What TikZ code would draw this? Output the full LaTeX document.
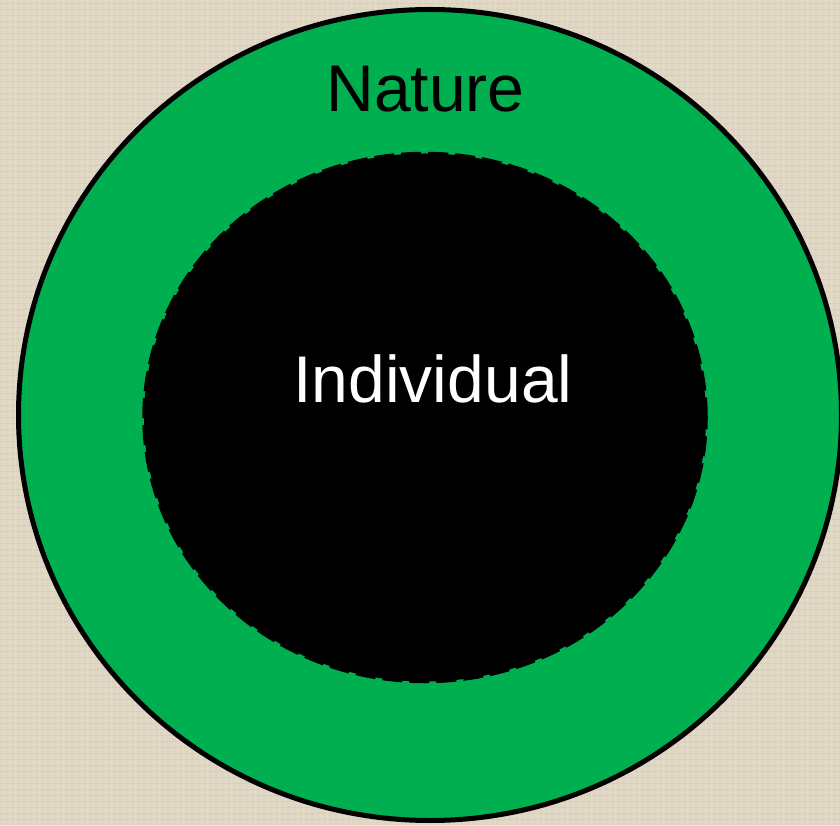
\documentclass[tikz,border=0pt]{standalone}
\usepackage{fontspec}
\setmainfont{Liberation Sans}
\definecolor{linen}{RGB}{223,214,196}
\definecolor{linendark}{RGB}{200,190,170}
\definecolor{linenlight}{RGB}{236,229,214}
\definecolor{natgreen}{RGB}{0,176,80}
\tikzset{
  outerring/.style={fill=natgreen, draw=black, line width=5pt},
  innercore/.style={fill=black, draw=black, line width=3.5pt, dash pattern=on 20pt off 7pt},
  bigtext/.style={font=\fontsize{66}{72}\selectfont, anchor=base, inner sep=0pt}
}
\begin{document}
\begin{tikzpicture}[x=1pt,y=1pt]
  \useasboundingbox (0,0) rectangle (840,825);
  \clip (0,0) rectangle (840,825);
  \fill[linen] (0,0) rectangle (840,825);
  % subtle linen weave
  \foreach \i in {0,6,...,825} {
    \draw[linendark, line width=0.6pt, opacity=0.35] (0,\i) -- (840,\i);
  }
  \foreach \i in {3,9,...,840} {
    \draw[linenlight, line width=0.6pt, opacity=0.4] (\i,0) -- (\i,825);
  }
  \draw[outerring] (430,410) ellipse [x radius=411.5, y radius=405.5];
  \draw[innercore] (425,407.5) ellipse [x radius=281, y radius=264];
  \node[bigtext, text=black] (nature) at (425.5,713) {Nature};
  \node[bigtext, text=white] (individual) at (433,422) {Individual};
\end{tikzpicture}
\end{document}
